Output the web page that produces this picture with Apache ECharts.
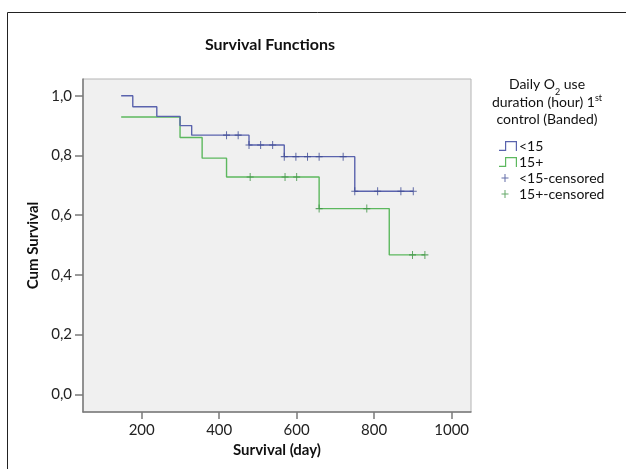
<!DOCTYPE html>
<html>
<head>
<meta charset="utf-8">
<script src="https://cdn.jsdelivr.net/npm/echarts@6/dist/echarts.min.js"></script>
<style>
html,body{margin:0;padding:0;background:#fff;}
#chart{width:626px;height:469px;}
</style>
</head>
<body>
<div id="chart"></div>
<script>
// ---- data ----
const xTicks = [200, 400, 600, 800, 1000];
const yTicks = [0, 0.2, 0.4, 0.6, 0.8, 1.0];

// group "<15" : event times (step points) and survival after each step
const lowTimes = [147, 177, 239, 299, 329, 477, 568, 750, 901];
const lowSurv  = [1.0, 0.963, 0.931, 0.900, 0.868, 0.835, 0.796, 0.680, 0.680];
// group "15+"
const highTimes = [147, 299, 356, 419, 658, 839, 931];
const highSurv  = [0.929, 0.860, 0.791, 0.728, 0.622, 0.467, 0.467];

// censored marks
const lowCensTimes = [419, 449, 477, 507, 538, 568, 598, 628, 658, 720, 750, 809, 869, 901];
const lowCensSurv  = [0.868, 0.868, 0.835, 0.835, 0.835, 0.796, 0.796, 0.796, 0.796, 0.796, 0.680, 0.680, 0.680, 0.680];
const highCensTimes = [480, 570, 600, 658, 781, 899, 931];
const highCensSurv  = [0.728, 0.728, 0.728, 0.622, 0.622, 0.467, 0.467];

const seriesNames = ['<15', '15+', '<15-censored', '15+-censored'];

// ---- build ----
const zip = (a, b) => a.map((v, i) => [v, b[i]]);
const FONT = 'Lato';
const blue = '#5a63ad', green = '#5cb85e';
const blueMark = '#3d4a94', greenMark = '#3f9444';
const plusPath = 'path://M0,0h0.01v0.01h-0.01z M18,10h0.01v0.01h-0.01z M2.5,4.5h7v1h-7z M5.5,1h1v8h-1z';
const stepPath = 'path://M0,8.8H6V0H18V10H16.8V1.2H7.2V10H0Z';
const markPath = 'path://M3,0h1v7h-1z M0,3h7v1h-7z';

const chart = echarts.init(document.getElementById('chart'), null, {renderer: 'canvas'});
chart.setOption({
  backgroundColor: '#ffffff',
  animation: false,
  textStyle: {fontFamily: FONT},
  grid: {
    left: 83, top: 79, width: 388, height: 333,
    show: true, backgroundColor: '#f0f0f0', borderColor: '#b4b4b4', borderWidth: 1
  },
  xAxis: {
    type: 'value', min: 48.5, max: 1050,
    name: 'Survival (day)', nameLocation: 'middle', nameGap: 30,
    nameTextStyle: {fontFamily: FONT, fontSize: 15, fontWeight: 'bold', color: '#111'},
    axisLine: {show: true, onZero: false, lineStyle: {color: '#7a7a7a', width: 1.5}},
    axisTick: {show: true, length: 7, lineStyle: {color: '#7a7a7a', width: 1.5}, customValues: xTicks},
    axisLabel: {customValues: xTicks, margin: 11, fontFamily: FONT, fontSize: 15, color: '#222',
      formatter: v => String(v)},
    splitLine: {show: false}
  },
  yAxis: {
    type: 'value', min: -0.059, max: 1.056,
    name: 'Cum Survival', nameLocation: 'middle', nameGap: 38,
    nameTextStyle: {fontFamily: FONT, fontSize: 15, fontWeight: 'bold', color: '#111'},
    axisLine: {show: true, onZero: false, lineStyle: {color: '#7a7a7a', width: 1.5}},
    axisTick: {show: true, length: 8, lineStyle: {color: '#7a7a7a', width: 1.5}, customValues: yTicks},
    axisLabel: {customValues: yTicks, margin: 11, fontFamily: FONT, fontSize: 15, color: '#222',
      formatter: v => v.toFixed(1).replace('.', ',')},
    splitLine: {show: false}
  },
  legend: {
    orient: 'vertical', left: 494, top: 134,
    itemWidth: 18, itemHeight: 10, itemGap: 2,
    itemStyle: {borderWidth: 0},
    textStyle: {fontFamily: FONT, fontSize: 14, color: '#111', lineHeight: 14, padding: [0, 0, 0, -3]},
    data: [
      {name: seriesNames[0], icon: stepPath},
      {name: seriesNames[1], icon: stepPath},
      {name: seriesNames[2], icon: plusPath},
      {name: seriesNames[3], icon: plusPath}
    ]
  },
  graphic: [
    {type: 'rect', silent: true, shape: {x: 7.5, y: 12.5, width: 700, height: 500},
      style: {fill: 'none', stroke: '#222', lineWidth: 1}},
    {type: 'text', x: 270, y: 45, silent: true,
      style: {text: 'Survival Functions', fontFamily: FONT, fontSize: 16, fontWeight: 'bold', fill: '#111',
        align: 'center', verticalAlign: 'middle'}},
    {type: 'text', x: 547, y: 76, silent: true,
      style: {
        text: 'Daily O{sub|2} use\nduration (hour) 1{sup|st}\ncontrol (Banded)',
        fontFamily: FONT, fontSize: 14, fill: '#111', align: 'center', verticalAlign: 'top', lineHeight: 17.5,
        rich: {
          sub: {fontFamily: FONT, fontSize: 9, fill: '#111', verticalAlign: 'bottom', lineHeight: 17.5, padding: [0, 0, -3, 0]},
          sup: {fontFamily: FONT, fontSize: 9, fill: '#111', verticalAlign: 'top', lineHeight: 17.5}
        }
      }}
  ],
  series: [
    {name: seriesNames[0], type: 'line', step: 'end', data: zip(lowTimes, lowSurv),
      symbol: 'none', showSymbol: false, color: blue, lineStyle: {color: blue, width: 1.4}, z: 3},
    {name: seriesNames[1], type: 'line', step: 'end', data: zip(highTimes, highSurv),
      symbol: 'none', showSymbol: false, color: green, lineStyle: {color: green, width: 1.4}, z: 2},
    {name: seriesNames[2], type: 'scatter', data: zip(lowCensTimes, lowCensSurv),
      symbol: markPath, symbolSize: [7, 8], color: blueMark, itemStyle: {color: blueMark}, z: 4},
    {name: seriesNames[3], type: 'scatter', data: zip(highCensTimes, highCensSurv),
      symbol: markPath, symbolSize: [7, 8], color: greenMark, itemStyle: {color: greenMark}, z: 4}
  ]
});
</script>
</body>
</html>
